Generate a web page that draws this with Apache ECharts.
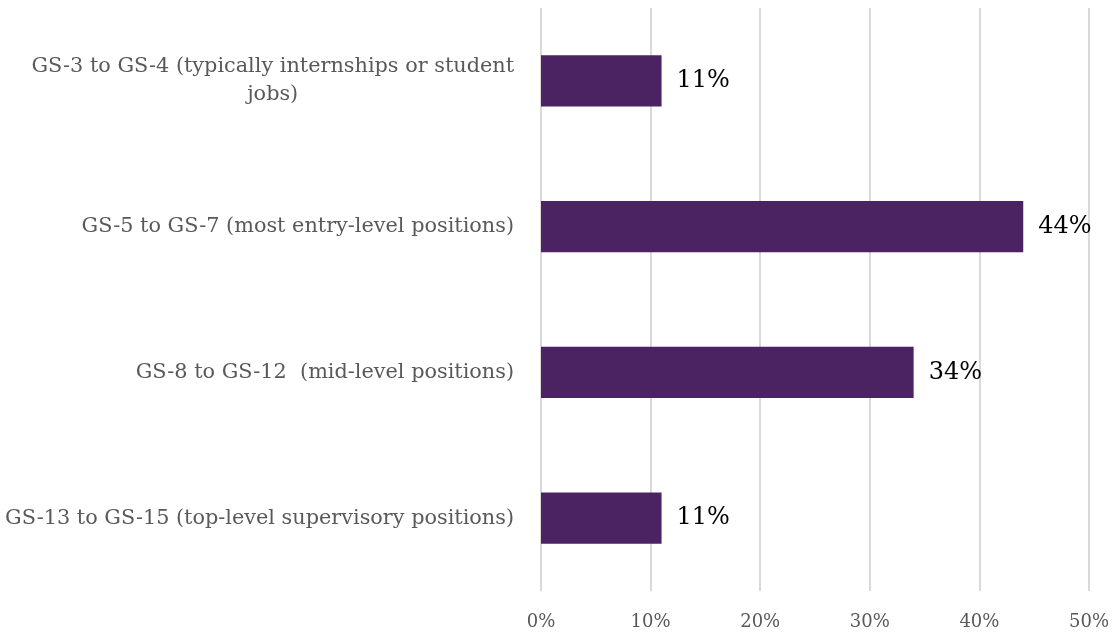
<!DOCTYPE html>
<html>
<head>
<meta charset="utf-8">
<script src="https://cdn.jsdelivr.net/npm/echarts@6/dist/echarts.min.js"></script>
<style>
  html, body { margin: 0; padding: 0; background: #fff; }
  #chart { width: 1114px; height: 634px; }
</style>
</head>
<body>
<div id="chart"></div>
<script>
// Share of positions by GS grade band (top to bottom)
const categories = [
  'GS-3 to GS-4 (typically internships or student\njobs)',
  'GS-5 to GS-7 (most entry-level positions)',
  'GS-8 to GS-12  (mid-level positions)',
  'GS-13 to GS-15 (top-level supervisory positions)'
];
const values = [11, 44, 34, 11];
const xTicks = [0, 10, 20, 30, 40, 50];

const serif = '"DejaVu Serif", Georgia, serif';

const chart = echarts.init(document.getElementById('chart'));
chart.setOption({
  animation: false,
  backgroundColor: '#ffffff',
  grid: {
    left: 541, right: 25, top: 8, bottom: 43,
    containLabel: false,
    outerBoundsMode: 'none'
  },
  xAxis: {
    type: 'value',
    min: xTicks[0],
    max: xTicks[xTicks.length - 1],
    interval: 10,
    axisLine: { show: false },
    axisTick: { show: false },
    splitLine: { show: true, lineStyle: { color: '#d9d9d9', width: 2 } },
    axisLabel: {
      formatter: v => v + '%',
      color: '#595959',
      fontFamily: serif,
      fontSize: 18,
      margin: 22
    }
  },
  yAxis: {
    type: 'category',
    inverse: true,
    data: categories,
    axisLine: { show: false },
    axisTick: { show: false },
    axisLabel: {
      // each line is centred inside a right-aligned block
      formatter: v => v.split('\n').map(s => '{c|' + s + '}').join('\n'),
      color: '#595959',
      fontFamily: serif,
      fontSize: 20.8,
      lineHeight: 28,
      align: 'right',
      margin: 27,
      rich: {
        c: {
          align: 'center',
          color: '#595959',
          fontFamily: serif,
          fontSize: 20.8,
          lineHeight: 28
        }
      }
    }
  },
  series: [{
    type: 'bar',
    data: values,
    barWidth: '35%',
    itemStyle: { color: '#4b2363' },
    label: {
      show: true,
      position: 'right',
      distance: 15,
      formatter: p => p.value + '%',
      color: '#000000',
      fontFamily: serif,
      fontSize: 24
    }
  }]
});
</script>
</body>
</html>
